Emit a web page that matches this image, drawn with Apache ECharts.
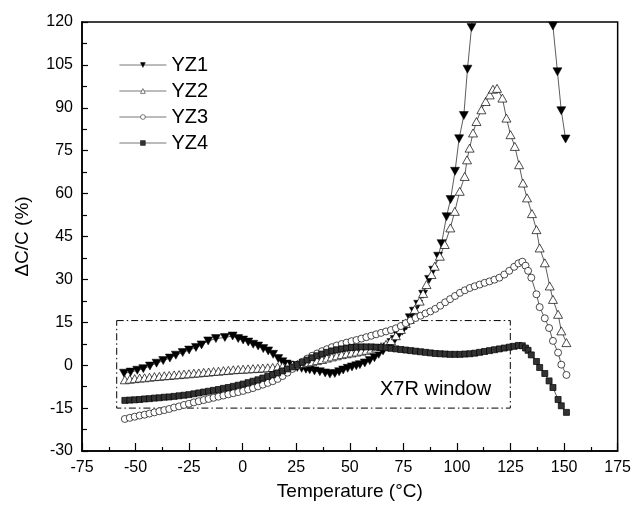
<!DOCTYPE html>
<html>
<head>
<meta charset="utf-8">
<script src="https://cdn.jsdelivr.net/npm/echarts@6/dist/echarts.min.js"></script>
<style>
  html, body { margin: 0; padding: 0; background: #fff; }
  #main { width: 634px; height: 506px; }
</style>
</head>
<body>
<div id="main"></div>
<script>
// temperature (°C) and ΔC/C (%)
const yz1T = [-55.4,-52.3,-49.2,-46.4,-43.3,-40.2,-37.1,-34.0,-31.2,-28.0,-25.0,-21.8,-19.2,-16.1,-12.5,-8.3,-4.7,-2.1,0.2,2.6,4.9,7.2,9.6,11.9,14.2,16.6,18.5,20.5,22.0,23.6,25.5,27.5,29.5,31.3,33.5,36.0,38.5,40.7,43.0,45.0,46.9,49.0,51.0,53.0,54.7,57.0,59.3,61.5,63.5,65.5,67.5,69.4,71.0,72.5,74.5,76.4,78.0,79.9,81.9,84.2,87.0,88.9,91.2,92.8,95.1,97.0,99.1,101.0,103.2,104.9,106.8,109.0,143.0,144.8,146.9,148.7,150.7];
const yz1V = [-2.8,-2.4,-1.75,-1.2,-0.3,0.7,1.6,2.5,3.5,4.4,5.3,6.2,7.1,8.5,9.3,9.7,10.2,9.3,8.8,8.1,7.3,6.7,5.8,5.0,3.8,2.3,1.2,0.4,0.0,-0.4,-0.8,-1.1,-1.4,-1.6,-2.0,-2.3,-2.7,-3.1,-2.9,-2.3,-1.7,-1.1,-0.6,-0.2,0.2,0.8,1.6,2.6,3.8,5.0,6.4,7.9,9.0,10.2,11.9,13.7,16.6,18.9,21.3,24.8,30.0,33.2,38.1,42.5,51.9,57.9,67.8,79.2,87.3,103.5,118.1,134,134,118.6,102.6,89.0,79.1];

const yz2T = [-55,-52.7,-50.4,-48.1,-45.8,-43.5,-41.2,-38.9,-36.6,-34.3,-32,-29.7,-27.4,-25.1,-22.8,-20.5,-18.2,-15.9,-13.6,-11.3,-9,-6.7,-4.4,-2.1,0.2,2.5,4.8,7.1,9.4,11.7,14,16.3,18.6,20.9,23.2,25.5,27.8,30.1,32.4,34.7,37,39.3,41.6,43.9,46.2,48.5,50.8,53.1,55.4,57.7,60,62.3,64.6,66.9,69.2,71.5,73.8,76.1,78,80.3,82.6,84.2,85.8,88.1,89.6,92,94.3,96.9,99,101.3,103.6,104.7,105.9,107.5,109.1,111.4,113.4,115.3,116.8,118.7,121.2,123.1,125,127,129,130.8,132.7,135,137.1,138.6,141,143.3,144.8,147.2,148.7,151.1];
const yz2V = [-5.1,-4.9,-4.7,-4.5,-4.4,-4.2,-4.0,-3.9,-3.7,-3.6,-3.4,-3.3,-3.1,-3.0,-2.8,-2.7,-2.5,-2.4,-2.2,-2.1,-1.9,-1.8,-1.6,-1.5,-1.4,-1.3,-1.2,-1.1,-1.0,-0.9,-0.8,-0.6,-0.4,-0.2,0.1,0.3,0.6,0.9,1.2,1.6,2.0,2.5,2.9,3.3,3.7,4.0,4.3,4.6,4.9,5.2,5.6,6.0,6.5,7.3,8.6,10.3,12.5,14.6,16.0,19.5,22.4,25.1,28.2,31.7,34.6,38.1,42.2,48.0,53.8,60.8,66.0,71.8,75.9,81.2,85.2,89.3,92.2,94.5,96.5,96.8,93.4,86.4,80.6,76.5,70.1,63.7,58.5,53.0,47.4,41.0,35.8,27.7,23.0,17.8,12.0,7.9];

const yz3T = [-55,-52.7,-50.4,-48.1,-45.8,-43.5,-41.2,-38.9,-36.6,-34.3,-32,-29.7,-27.4,-25.1,-22.8,-20.5,-18.2,-15.9,-13.6,-11.3,-9,-6.7,-4.4,-2.1,0.2,2.5,4.8,7.1,9.4,11.7,14,16.3,18.6,20.9,23.2,25.5,27.8,30.1,32.4,34.7,37,39.3,41.6,43.9,46.2,48.5,50.8,53.1,55.4,57.7,60,62.3,64.6,66.9,69.2,71.5,73.8,76.1,78.4,80.7,83,85.3,87.6,89.9,92.2,94.5,96.8,99.1,101.4,103.7,106,108.3,110.6,112.9,115.2,117.5,119.8,122.1,124.4,126.7,128.7,130.5,132,133.2,134.7,137.1,138.6,141,143,144.8,147.2,148.7,151.1];
const yz3V = [-18.8,-18.4,-18.0,-17.6,-17.3,-16.9,-16.5,-16.1,-15.7,-15.3,-14.8,-14.4,-13.9,-13.5,-13.0,-12.6,-12.2,-11.8,-11.4,-11.0,-10.6,-10.2,-9.8,-9.4,-9.0,-8.5,-8.0,-7.4,-6.8,-6.2,-5.6,-4.8,-3.8,-2.6,-1.3,0.0,1.2,2.3,3.3,4.1,4.9,5.6,6.3,6.9,7.4,7.9,8.4,8.8,9.3,9.8,10.3,10.8,11.3,11.8,12.3,12.9,13.7,14.7,15.6,16.5,17.3,18.1,18.8,19.7,20.8,22.0,23.1,24.2,25.3,26.2,27.0,27.6,28.2,28.8,29.3,29.9,30.6,31.7,33.0,34.4,35.6,36.2,34.8,33.0,30.6,24.8,20.3,16.4,13.0,8.5,4.4,0.2,-3.4];

const yz4T = yz3T;
const yz4V = [-12.3,-12.2,-12.1,-12.0,-11.8,-11.7,-11.5,-11.4,-11.2,-11.1,-10.9,-10.7,-10.5,-10.3,-10.0,-9.7,-9.4,-9.1,-8.8,-8.5,-8.1,-7.8,-7.4,-7.0,-6.6,-6.1,-5.6,-5.1,-4.5,-3.9,-3.3,-2.7,-2.0,-1.3,-0.6,0.2,1.0,1.8,2.6,3.3,3.9,4.5,5.0,5.4,5.7,6.0,6.2,6.3,6.4,6.4,6.4,6.3,6.2,6.1,5.9,5.7,5.5,5.3,5.1,4.9,4.7,4.5,4.3,4.1,4.0,3.9,3.8,3.8,3.8,3.9,4.0,4.2,4.5,4.8,5.1,5.4,5.7,6.0,6.3,6.6,6.9,6.8,6.0,5.2,3.6,1.3,-0.8,-2.9,-5.5,-7.8,-12.0,-14.2,-16.5];

const windowBox = [[-58.8, 15.6], [124.9, -15]];

const font = '"Liberation Sans", Arial, sans-serif';
const pairs = (t, v) => t.map((x, i) => [x, v[i]]);

const lineStyle = { color: '#333', width: 0.8 };

const chart = echarts.init(document.getElementById('main'));
chart.setOption({
  animation: false,
  backgroundColor: '#fff',
  grid: { left: 82, right: 16, top: 22, bottom: 54, show: true, borderColor: '#000', borderWidth: 1.5 },
  legend: {
    orient: 'vertical', left: 119, top: 55, padding: 0,
    itemWidth: 47, itemHeight: 6, itemGap: 6,
    lineStyle: { width: 0.8, color: '#555' },
    itemStyle: { borderWidth: 0.5 },
    textStyle: { fontFamily: font, fontSize: 20, color: '#000' },
    data: ['YZ1', 'YZ2', 'YZ3', 'YZ4']
  },
  xAxis: {
    type: 'value', min: -75, max: 175, interval: 25,
    name: 'Temperature (°C)', nameLocation: 'middle', nameGap: 31,
    nameTextStyle: { fontFamily: font, fontSize: 19, color: '#000' },
    axisLine: { show: true, onZero: false, lineStyle: { color: '#000', width: 1.5 } },
    axisTick: { inside: true, length: 8, lineStyle: { color: '#000', width: 1.2 } },
    minorTick: { show: true, splitNumber: 2, length: 4, lineStyle: { color: '#000', width: 1.2 } },
    axisLabel: { fontFamily: font, fontSize: 16, color: '#000', margin: 9 },
    splitLine: { show: false }
  },
  yAxis: {
    type: 'value', min: -30, max: 120, interval: 15,
    name: 'ΔC/C (%)', nameLocation: 'middle', nameGap: 50,
    nameTextStyle: { fontFamily: font, fontSize: 19, color: '#000' },
    axisLine: { show: true, onZero: false, lineStyle: { color: '#000', width: 1.5 } },
    axisTick: { inside: true, length: 6, lineStyle: { color: '#000', width: 1.2 } },
    minorTick: { show: true, splitNumber: 2, length: 5, lineStyle: { color: '#000', width: 1.2 } },
    axisLabel: { fontFamily: font, fontSize: 16, color: '#000', margin: 9 },
    splitLine: { show: false }
  },
  series: [
    {
      name: 'YZ1', type: 'line', data: pairs(yz1T, yz1V),
      symbol: 'triangle', symbolRotate: 180, symbolSize: [9, 8],
      lineStyle: lineStyle, itemStyle: { color: '#000', borderColor: '#000', borderWidth: 0.5 }
    },
    {
      name: 'YZ2', type: 'line', data: pairs(yz2T, yz2V),
      symbol: 'triangle', symbolSize: [9, 8],
      lineStyle: lineStyle, itemStyle: { color: '#fff', borderColor: '#000', borderWidth: 0.7 }
    },
    {
      name: 'YZ3', type: 'line', data: pairs(yz3T, yz3V),
      symbol: 'circle', symbolSize: 7,
      lineStyle: lineStyle, itemStyle: { color: '#fff', borderColor: '#000', borderWidth: 0.7 }
    },
    {
      name: 'YZ4', type: 'line', data: pairs(yz4T, yz4V),
      symbol: 'rect', symbolSize: 6,
      lineStyle: lineStyle, itemStyle: { color: '#333', borderColor: '#000', borderWidth: 0.7 },
      markArea: {
        silent: true,
        itemStyle: { color: 'rgba(0,0,0,0)', borderColor: '#000', borderWidth: 1, borderType: [7, 3, 1.5, 3] },
        label: { show: false },
        data: [[{ coord: windowBox[0] }, { coord: windowBox[1] }]]
      }
    }
  ],
  graphic: [
    { type: 'text', left: 380, top: 379, style: { text: 'X7R window', font: '20px "Liberation Sans", Arial, sans-serif', fill: '#000' } }
  ]
});
</script>
</body>
</html>
